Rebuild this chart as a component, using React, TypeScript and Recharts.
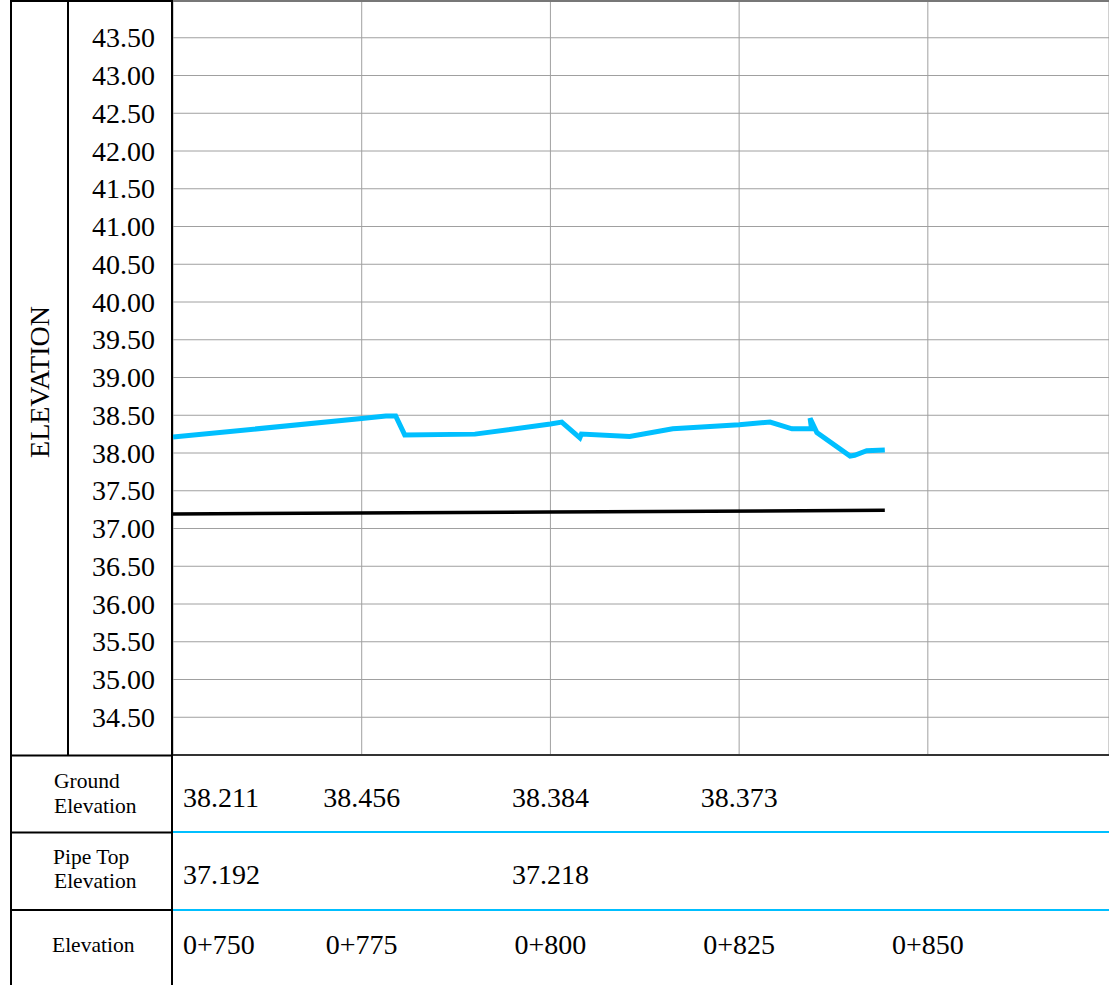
import {
  CartesianGrid,
  ComposedChart,
  Customized,
  Line,
  XAxis,
  YAxis,
} from "recharts";

// ground profile (station m, elevation m)
const groundStations = [
  750, 775, 778.2, 779.5, 780.7, 790, 800, 801.5, 803.9, 804.1, 810.5, 816.2, 825, 829.1, 832, 834.6,
  834.4, 835.3, 839.7, 840.3, 841.9, 844.3,
];
const groundElevations = [
  38.211, 38.456, 38.49, 38.49, 38.24, 38.25, 38.384, 38.41, 38.2, 38.25, 38.22, 38.32, 38.373, 38.41,
  38.32, 38.32, 38.46, 38.27, 37.96, 37.97, 38.03, 38.04,
];

const pipeStations = [750, 800, 844.3];
const pipeElevations = [37.192, 37.218, 37.241];

// table rows
const groundLabelStations = [750, 775, 800, 825];
const groundLabels = ["38.211", "38.456", "38.384", "38.373"];
const pipeLabelStations = [750, 800];
const pipeLabels = ["37.192", "37.218"];
const chainageStations = [750, 775, 800, 825, 850];
const chainageLabels = ["0+750", "0+775", "0+800", "0+825", "0+850"];

const yTicks = [34.5, 35, 35.5, 36, 36.5, 37, 37.5, 38, 38.5, 39, 39.5, 40, 40.5, 41, 41.5, 42, 42.5, 43, 43.5];

const groundData = groundStations.map((s, i) => ({ station: s, ground: groundElevations[i] }));
const pipeData = pipeStations.map((s, i) => ({ station: s, pipe: pipeElevations[i] }));

const FONT = "'Liberation Serif', 'Times New Roman', serif";
const BLUE = "#00bfff";
const X_DOMAIN: [number, number] = [750, 874];

function makeRowTick(stations: number[], labels: string[], baseline: number) {
  return (props: any) => {
    const { x, y, payload } = props;
    const idx = stations.indexOf(payload.value);
    const first = payload.value === X_DOMAIN[0];
    return (
      <text
        x={first ? x + 10 : x}
        y={y + baseline}
        textAnchor={first ? "start" : "middle"}
        fontFamily={FONT}
        fontSize={28}
        fill="#000"
      >
        {labels[idx]}
      </text>
    );
  };
}

function YTick(props: any) {
  const { y, payload } = props;
  return (
    <text x={155} y={y + 9.5} textAnchor="end" fontFamily={FONT} fontSize={28} fill="#000">
      {Number(payload.value).toFixed(2)}
    </text>
  );
}

function Frame() {
  return (
    <g>
      <line x1={10} y1={1} x2={173} y2={1} stroke="#000" strokeWidth={2} />
      <line x1={173} y1={1} x2={1109} y2={1} stroke="#777" strokeWidth={2} />
      <line x1={11} y1={0} x2={11} y2={985} stroke="#000" strokeWidth={2} />
      <line x1={68} y1={0} x2={68} y2={755} stroke="#000" strokeWidth={2} />
      <line x1={172} y1={0} x2={172} y2={985} stroke="#000" strokeWidth={2} />
      <line x1={10} y1={755.5} x2={173} y2={755.5} stroke="#000" strokeWidth={2} />
      <line x1={10} y1={832.5} x2={173} y2={832.5} stroke="#000" strokeWidth={2} />
      <line x1={10} y1={910} x2={173} y2={910} stroke="#000" strokeWidth={2} />
      <text
        x={49}
        y={382}
        transform="rotate(-90 49 382)"
        textAnchor="middle"
        fontFamily={FONT}
        fontSize={28}
        fill="#000"
      >
        ELEVATION
      </text>
      <g fontFamily={FONT} fontSize={21.5} fill="#000">
        <text x={54} y={788}>Ground</text>
        <text x={54} y={813}>Elevation</text>
        <text x={53} y={864}>Pipe Top</text>
        <text x={54} y={888}>Elevation</text>
        <text x={52} y={952}>Elevation</text>
      </g>
    </g>
  );
}

export default function App() {
  return (
    <div style={{ position: "absolute", left: 0, top: 0, width: 1109, height: 985, background: "#fff" }}>
      <ComposedChart width={1109} height={985} margin={{ top: 0, right: 0, left: 0, bottom: 0 }}>
        <CartesianGrid xAxisId="s" stroke="#a0a0a0" strokeWidth={1} />
        <YAxis
          type="number"
          domain={[34, 44]}
          ticks={yTicks}
          width={173}
          axisLine={false}
          tickLine={false}
          tick={YTick}
          interval={0}
          allowDataOverflow
        />
        <XAxis
          xAxisId="g"
          type="number"
          dataKey="station"
          domain={X_DOMAIN}
          allowDataOverflow
          ticks={groundLabelStations}
          height={77}
          interval={0}
          tickLine={false}
          tickSize={0}
          tickMargin={0}
          axisLine={{ stroke: "#333", strokeWidth: 2 }}
          tick={makeRowTick(groundLabelStations, groundLabels, 52)}
        />
        <XAxis
          xAxisId="p"
          type="number"
          dataKey="station"
          domain={X_DOMAIN}
          allowDataOverflow
          ticks={pipeLabelStations}
          height={78}
          interval={0}
          tickLine={false}
          tickSize={0}
          tickMargin={0}
          axisLine={{ stroke: BLUE, strokeWidth: 2 }}
          tick={makeRowTick(pipeLabelStations, pipeLabels, 52)}
        />
        <XAxis
          xAxisId="s"
          type="number"
          dataKey="station"
          domain={X_DOMAIN}
          allowDataOverflow
          ticks={chainageStations}
          height={75}
          interval={0}
          tickLine={false}
          tickSize={0}
          tickMargin={0}
          axisLine={{ stroke: BLUE, strokeWidth: 2 }}
          tick={makeRowTick(chainageStations, chainageLabels, 44)}
        />
        <Line
          xAxisId="g"
          data={groundData}
          dataKey="ground"
          type="linear"
          stroke={BLUE}
          strokeWidth={5}
          dot={false}
          isAnimationActive={false}
        />
        <Line
          xAxisId="p"
          data={pipeData}
          dataKey="pipe"
          type="linear"
          stroke="#000"
          strokeWidth={3.5}
          dot={false}
          isAnimationActive={false}
        />
        <Line
          xAxisId="s"
          data={pipeData}
          dataKey="pipe"
          type="linear"
          stroke="none"
          dot={false}
          activeDot={false}
          isAnimationActive={false}
        />
        <Customized component={Frame} />
      </ComposedChart>
    </div>
  );
}
